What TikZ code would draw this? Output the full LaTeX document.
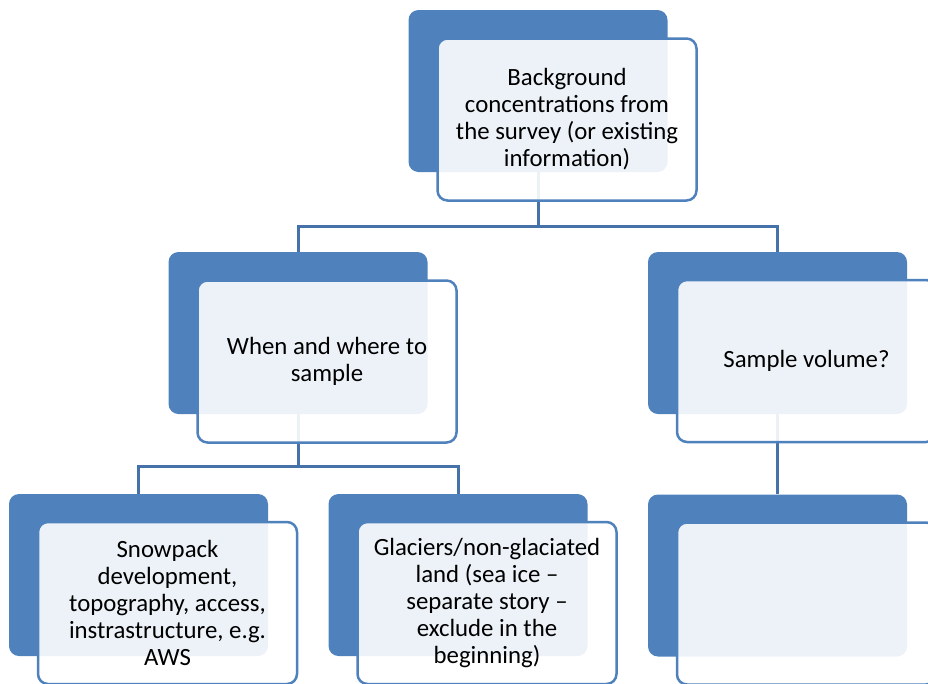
\documentclass[tikz,border=0pt]{standalone}
\usepackage{fontspec}
\setmainfont{Carlito}
\usetikzlibrary{backgrounds}
\definecolor{accent}{HTML}{4F81BD}
\definecolor{connc}{HTML}{4672AA}
\begin{document}
\begin{tikzpicture}[x=1pt,y=-1pt,
  back/.style={rectangle, rounded corners=10pt, fill=accent, draw=none,
    minimum width=259pt, minimum height=162pt, inner sep=0pt},
  front/.style={rectangle, rounded corners=10pt, draw=accent, line width=2.5pt,
    fill=white, fill opacity=0.9, text opacity=1, text=black,
    minimum width=259pt, minimum height=162pt, inner sep=0pt, align=center,
    font=\fontsize{24.8}{27}\selectfont},
  conn/.style={draw=connc, line width=3pt}]
\useasboundingbox (0,0) rectangle (928,683);
\clip (0,0) rectangle (928,683);
% back boxes
\node[back] (b1) at (538,91) {};
\node[back] (b2) at (298,333) {};
\node[back] (b3) at (777.5,333) {};
\node[back] (b4) at (138.5,575) {};
\node[back] (b5) at (458,575) {};
\node[back] (b6) at (777.5,575.5) {};
% junctions
\coordinate (j1) at (538,226);
\coordinate (j2) at (298,466);
\begin{pgfonlayer}{background}
\draw[conn] (b1.south) -- (j1) -| (b2.north);
\draw[conn] (j1) -| (b3.north);
\draw[conn] (b2.south) -- (j2) -| (b4.north);
\draw[conn] (j2) -| (b5.north);
\draw[conn] (b3.south) -- (b6.north);
\end{pgfonlayer}
% front boxes
\node[front] (f1) at (567,119.5) {Background\\concentrations from\\the survey (or existing\\information)};
\node[front] (f2) at (327,361.5) {When and where to\\sample};
\node[front] (f3) at (806.5,361) {Sample volume?};
\node[front] (f4) at (167.5,603) {Snowpack\\development,\\topography, access,\\instrastructure, e.g.\\AWS};
\node[front] (f5) at (487,603) {Glaciers/non-glaciated\\land (sea ice –\\separate story –\\exclude in the\\beginning)};
\node[front] (f6) at (806.5,603.5) {};
\end{tikzpicture}
\end{document}
